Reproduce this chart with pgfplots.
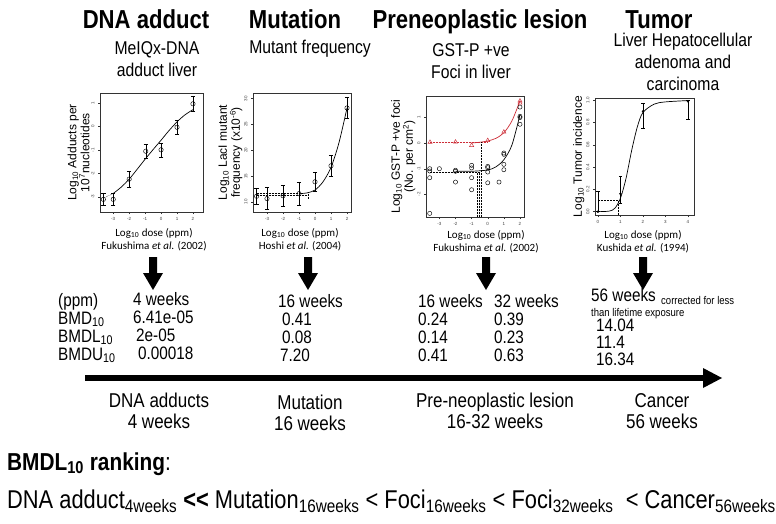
\documentclass[border=0pt]{standalone}
\usepackage{fontspec}
\setmainfont{Liberation Sans}[FakeStretch=0.85]
\newfontfamily\plainfont{Liberation Sans}
\newfontfamily\calfont{Carlito}
\usepackage{pgfplots}
\pgfplotsset{compat=1.18}
\definecolor{rred}{RGB}{205,45,55}
\pgfplotsset{
  mini/.style={scale only axis, anchor=south west,
    axis line style={line width=0.5pt, black!80},
    tick style={black!80, line width=0.4pt},
    tick align=outside, major tick length=2pt,
    xtick pos=bottom, ytick pos=left,
    tick label style={font=\plainfont\fontsize{4.5}{5}\selectfont, text=black!75},
    yticklabel style={rotate=90, anchor=south},
    ylabel style={align=center, font=\plainfont\fontsize{12}{13}\selectfont},
    ylabel shift=-5pt,
    /pgf/number format/assume math mode=true,
    clip=false},
  pts/.style={only marks, mark=o, mark size=2.2pt, black, line width=0.45pt},
  ebar/.style={error bars/.cd, y dir=both, y explicit,
    error bar style={line width=0.5pt, black},
    error mark options={rotate=90, mark size=2.2pt, line width=0.5pt}},
  fit/.style={smooth, black, line width=0.7pt, no marks},
  dots/.style={densely dotted, line width=0.5pt, no marks},
}
\begin{document}
\begin{tikzpicture}[x=1pt,y=1pt]
\useasboundingbox (0,0) rectangle (776,-524);
\fill[white] (0,0) rectangle (776,-524);

% titles
\begin{scope}[font=\fontsize{26}{28}\selectfont\bfseries, every node/.style={inner sep=0pt}]
\node[anchor=base] at (146,-29) {DNA adduct};
\node[anchor=base] at (295,-29) {Mutation};
\node[anchor=base] at (480,-29) {Preneoplastic lesion};
\node[anchor=base] at (659,-29) {Tumor};
\end{scope}
\begin{scope}[font=\fontsize{18.5}{22}\selectfont, every node/.style={inner sep=0pt}]
\node[anchor=base] at (157,-55) {MeIQx-DNA};
\node[anchor=base] at (157,-77) {adduct liver};
\node[anchor=base] at (310,-54) {Mutant frequency};
\node[anchor=base] at (471,-57) {GST-P +ve};
\node[anchor=base] at (471,-79) {Foci in liver};
\node[anchor=base] at (683,-47) {Liver Hepatocellular};
\node[anchor=base] at (683,-69) {adenoma and};
\node[anchor=base] at (683,-91) {carcinoma};
\end{scope}

% plot 1
\begin{axis}[mini, at={(100pt,-212pt)}, width=103pt, height=119pt,
  xmin=-3.83, xmax=2.63, ymin=-3.64, ymax=1.43,
  xtick={-3,...,2}, ytick={-3,...,1},
  ylabel={Log\textsubscript{10} Adducts per\\10\textsuperscript{7}nucleotides}]
\addplot[pts, ebar] coordinates {
 (-3.62,-3.10) +- (0,0.25)
 (-3,-3.10) +- (0,0.25)
 (-2,-2.24) +- (0,0.33)
 (-0.96,-1.05) +- (0,0.30)
 (0,-0.99) +- (0,0.30)
 (1,-0.03) +- (0,0.30)
 (2,0.97) +- (0,0.33)};
\addplot[fit] coordinates {(-3,-2.85) (-2.5,-2.58) (-2,-2.24) (-1.5,-1.82) (-1,-1.39) (-0.5,-0.98) (0,-0.58) (0.5,-0.17) (1,0.20) (1.5,0.50) (2,0.72)};
\addplot[dots] coordinates {(-3.62,-3.05) (-3,-2.85)};
\end{axis}

% plot 2
\begin{axis}[mini, at={(253pt,-212pt)}, width=98pt, height=119pt,
  xmin=-3.875, xmax=2.25, ymin=8.05, ymax=31.1,
  xtick={-3,...,2}, ytick={10,15,20,25,30},
  ylabel={Log\textsubscript{10} LacI mutant\\frequency (x10\textsuperscript{-6})}]
\addplot[pts, ebar] coordinates {
 (-3.65,11.1) +- (0,1.5)
 (-3,10.65) +- (0,2.1)
 (-2,11.2) +- (0,2.1)
 (-1,11.6) +- (0,2.2)
 (0,13.9) +- (0,1.9)
 (1,17.0) +- (0,2.1)
 (2,28.2) +- (0,2.0)};
\addplot[fit] coordinates {(-1,11.6) (-0.5,11.75) (0,12.3) (0.5,13.9) (1,16.7) (1.5,21.5) (2,28.2)};
\addplot[dots] coordinates {(-3.65,11.6) (-1,11.6)};
\addplot[dots] coordinates {(-3.65,11.3) (-0.4,11.3)};
\addplot[dots] coordinates {(-0.4,11.6) (-0.4,10.6)};
\end{axis}

% plot 3
\begin{axis}[mini, at={(426pt,-217pt)}, width=98pt, height=121pt,
  xmin=-3.83, xmax=2.25, ymin=-2.88, ymax=1.83,
  xtick={-3,...,2}, ytick={-2,...,1},
  ylabel={Log\textsubscript{10} GST-P +ve foci\\(No. per cm\textsuperscript{2})}]
\addplot[only marks, mark=triangle, mark size=2.4pt, rred, line width=0.45pt] coordinates {
 (-3.58,0.03) (-2,0.04) (-1,-0.09) (0,0.1) (1,0.43) (2,1.64) (2,1.56)};
\addplot[pts, mark size=2.1pt] coordinates {
 (-3.6,-1.0) (-3.6,-1.09) (-3.6,-1.35) (-3.6,-2.74)
 (-3,-1.0)
 (-2,-1.06) (-2,-1.1) (-2,-1.52)
 (-1,-0.87) (-1,-0.97) (-1,-1.35) (-1,-1.82)
 (0,-0.91) (0,-0.96) (0,-1.13) (0,-1.55)
 (0.7,-1.52)
 (1,-0.39) (1,-0.44) (1,-0.83) (1,-1.04)
 (2,1.4) (2,1.04) (2,0.99) (2,0.73)};
\addplot[fit, rred] coordinates {(-1,0.0) (-0.5,0.03) (0,0.08) (0.5,0.18) (1,0.40) (1.5,0.86) (2,1.64)};
\addplot[fit] coordinates {(-2,-1.1) (-1,-1.1) (0,-1.05) (0.5,-0.93) (1,-0.65) (1.5,-0.08) (2,1.1)};
\addplot[dots, rred] coordinates {(-3.6,0.02) (0,0.02)};
\addplot[dots] coordinates {(-3.6,-1.15) (-0.5,-1.15)};
\addplot[dots] coordinates {(-0.62,-1.15) (-0.62,-2.88)};
\addplot[dots] coordinates {(-0.5,-1.15) (-0.5,-2.88)};
\addplot[dots] coordinates {(-0.4,0.02) (-0.4,-2.88)};
\end{axis}

% plot 4
\begin{axis}[mini, at={(595pt,-215pt)}, width=99pt, height=117pt,
  xmin=-0.13, xmax=4.27, ymin=-0.03, ymax=1.02,
  xtick={0,...,4}, ytick={0,0.2,0.4,0.6,0.8,1.0},
  yticklabel style={/pgf/number format/.cd, fixed, fixed zerofill, precision=1},
  ylabel={Log\textsubscript{10} Tumor incidence}]
\addplot[only marks, mark=*, mark size=1pt, black, error bars/.cd, y dir=both, y explicit,
  error bar style={line width=0.5pt, black},
  error mark options={rotate=90, mark size=1.6pt, line width=0.5pt}] coordinates {
 (0,0) += (0,0.18) -= (0,0)
 (1,0.16) += (0,0.16) -= (0,0.085)
 (2,0.90) += (0,0.07) -= (0,0.15)
 (4,0.99) += (0,0.01) -= (0,0.16)};
\addplot[fit] coordinates {(0,0) (0.5,0.005) (0.75,0.03) (1,0.12) (1.25,0.30) (1.5,0.55) (1.75,0.76) (2,0.89) (2.5,0.965) (3,0.985) (4,0.997)};
\addplot[dots] coordinates {(0,0.1) (0.95,0.1)};
\addplot[dots] coordinates {(0.92,0.1) (0.92,-0.03)};
\end{axis}

% x-axis captions
\begin{scope}[font=\calfont\fontsize{11}{13}\selectfont, every node/.style={inner sep=0pt}]
\node[anchor=base] at (154,-236) {Log\textsubscript{10} dose (ppm)};
\node[anchor=base] at (154,-249) {Fukushima \textit{et al.} (2002)};
\node[anchor=base] at (300,-236) {Log\textsubscript{10} dose (ppm)};
\node[anchor=base] at (300,-249) {Hoshi \textit{et al.} (2004)};
\node[anchor=base] at (486,-238) {Log\textsubscript{10} dose (ppm)};
\node[anchor=base] at (486,-251) {Fukushima \textit{et al.} (2002)};
\node[anchor=base] at (643,-238) {Log\textsubscript{10} dose (ppm)};
\node[anchor=base] at (643,-251) {Kushida \textit{et al.} (1994)};
\end{scope}

% down arrows
\foreach \ax in {153,308,486,643}{
  \fill[black] (\ax-4,-257) -- (\ax+4,-257) -- (\ax+4,-273) -- (\ax+10,-273) -- (\ax,-290) -- (\ax-10,-273) -- (\ax-4,-273) -- cycle;
}

% table
\begin{scope}[font=\fontsize{18}{20}\selectfont, every node/.style={inner sep=0pt}]
\node[anchor=base west] at (58,-306) {(ppm)};
\node[anchor=base west] at (58,-324) {BMD\textsubscript{10}};
\node[anchor=base west] at (58,-342) {BMDL\textsubscript{10}};
\node[anchor=base west] at (58,-360) {BMDU\textsubscript{10}};
\node[anchor=base west] at (133,-305) {4 weeks};
\node[anchor=base west] at (133,-323) {6.41e-05};
\node[anchor=base west] at (136,-341) {2e-05};
\node[anchor=base west] at (138,-359) {0.00018};
\node[anchor=base west] at (278,-307) {16 weeks};
\node[anchor=base west] at (282,-325) {0.41};
\node[anchor=base west] at (282,-343) {0.08};
\node[anchor=base west] at (280,-361) {7.20};
\node[anchor=base west] at (418,-307) {16 weeks};
\node[anchor=base west] at (418,-325) {0.24};
\node[anchor=base west] at (418,-343) {0.14};
\node[anchor=base west] at (418,-361) {0.41};
\node[anchor=base west] at (494,-307) {32 weeks};
\node[anchor=base west] at (494,-325) {0.39};
\node[anchor=base west] at (494,-343) {0.23};
\node[anchor=base west] at (494,-361) {0.63};
\node[anchor=base west] at (591,-301.5) {56 weeks};
\node[anchor=base west, font=\fontsize{11.2}{12}\selectfont] at (661,-304) {corrected for less};
\node[anchor=base west, font=\fontsize{11.2}{12}\selectfont] at (591,-316) {than lifetime exposure};
\node[anchor=base west] at (596,-331.5) {14.04};
\node[anchor=base west] at (596,-348.5) {11.4};
\node[anchor=base west] at (596,-365.5) {16.34};
\end{scope}

% timeline arrow
\fill[black] (85,-375) rectangle (706,-381);
\fill[black] (703,-368) -- (722,-378) -- (703,-388) -- cycle;

\begin{scope}[font=\fontsize{20}{22}\selectfont, every node/.style={inner sep=0pt}]
\node[anchor=base] at (159,-407) {DNA adducts};
\node[anchor=base] at (159,-428) {4 weeks};
\node[anchor=base] at (310,-409) {Mutation};
\node[anchor=base] at (310,-430) {16 weeks};
\node[anchor=base] at (495,-407) {Pre-neoplastic lesion};
\node[anchor=base] at (495,-428) {16-32 weeks};
\node[anchor=base] at (662,-407) {Cancer};
\node[anchor=base] at (662,-428) {56 weeks};
\end{scope}

\node[anchor=base west, inner sep=0pt, font=\fontsize{24.5}{26}\selectfont] at (7,-470) {\textbf{BMDL\textsubscript{10} ranking}:};
\node[anchor=base west, inner sep=0pt, font=\fontsize{25.7}{27}\selectfont] at (7,-508) {DNA adduct\textsubscript{4weeks} \textbf{<\kern0pt<} Mutation\textsubscript{16weeks} < Foci\textsubscript{16weeks} < Foci\textsubscript{32weeks} \ < Cancer\textsubscript{56weeks}};
\end{tikzpicture}
\end{document}
